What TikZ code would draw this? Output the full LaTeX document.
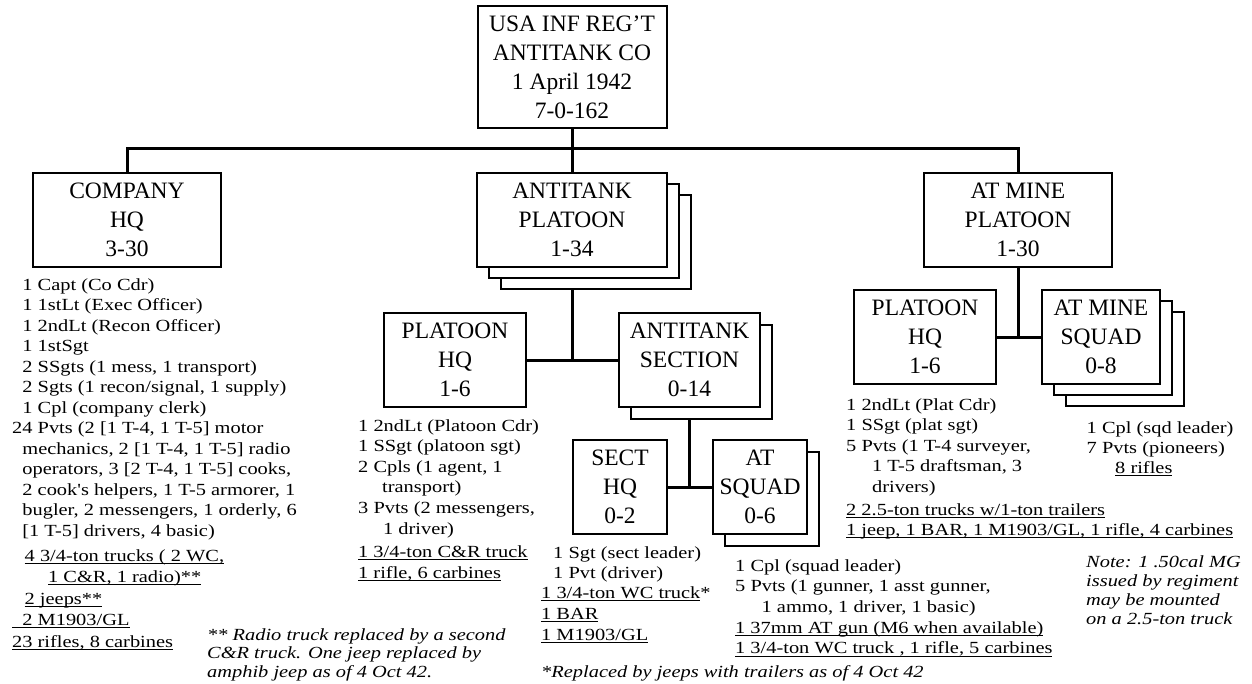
\documentclass[tikz,border=0pt]{standalone}
\usepackage{fontspec}
\setmainfont{Liberation Serif}
\newfontfamily\listfont{Liberation Serif}[FakeStretch=1.2]
\newcommand{\ulin}[1]{\setbox0=\hbox{#1}\rlap{\rule[-2.8pt]{\wd0}{1pt}}\box0}
\usetikzlibrary{shadows, backgrounds}

\begin{document}
\begin{tikzpicture}[
        x=1pt, y=-1pt,
        box/.style = {draw, line width=2pt, fill=white, align=center, inner sep=0pt, minimum height=94pt, font={\fontsize{23.5}{29}\selectfont}},
        oneshadow/.style = {general shadow={shadow xshift=12pt, shadow yshift=-12pt, draw, fill=white, line width=2pt}},
        twoshadows/.style = {general shadow={shadow xshift=24pt, shadow yshift=-22pt, draw, fill=white, line width=2pt},
                             general shadow={shadow xshift=12pt, shadow yshift=-11pt, draw, fill=white, line width=2pt}},
        list/.style = {anchor=north west, align=left, inner sep=0pt, font={\listfont\fontsize{17}{20.5}\selectfont}},
        note/.style = {anchor=north west, align=left, inner sep=0pt, font={\listfont\itshape\fontsize{17}{18.5}\selectfont}},
        link/.style = {line width=3pt},
    ]
        \useasboundingbox (0,0) rectangle (1252,683);
        \node[box, minimum width=189pt, minimum height=122pt] (regt) at (572,67) {USA INF REG'T\\ANTITANK CO\\1 April 1942\\7-0-162};
        \node[box, minimum width=188pt] (cohq) at (127,220) {COMPANY\\HQ\\3-30};
        \node[box, minimum width=190pt, twoshadows] (atplt) at (572,220) {ANTITANK\\PLATOON\\1-34};
        \node[box, minimum width=188pt] (mineplt) at (1018,220) {AT MINE\\PLATOON\\1-30};
        \node[box, minimum width=142pt] (plthq) at (455,360) {PLATOON\\HQ\\1-6};
        \node[box, minimum width=141pt, oneshadow] (atsec) at (689.5,360) {ANTITANK\\SECTION\\0-14};
        \node[box, minimum width=94pt] (secthq) at (620,487) {SECT\\HQ\\0-2};
        \node[box, minimum width=94pt, oneshadow] (atsqd) at (760,487) {AT\\SQUAD\\0-6};
        \node[box, minimum width=142pt] (mplthq) at (925,337) {PLATOON\\HQ\\1-6};
        \node[box, minimum width=118pt, twoshadows] (minesqd) at (1101,337) {AT MINE\\SQUAD\\0-8};

        \begin{scope}[on background layer]
            \coordinate (bus) at (572,148);
            \draw[link] (regt) -- (atplt);
            \draw[link] (cohq) |- (bus) -| (mineplt);
            \draw[link] (atplt) -- (atplt |- plthq);
            \draw[link] (plthq) -- (atsec);
            \draw[link] (atsec) -- (atsec |- secthq);
            \draw[link] (secthq) -- (atsqd);
            \draw[link] (mineplt) -- (mineplt |- mplthq);
            \draw[link] (mplthq) -- (minesqd);
        \end{scope}

        \node[list] (cohqlist) at (12,278) {\phantom{2}1 Capt (Co Cdr)\\\phantom{2}1 1stLt (Exec Officer)\\\phantom{2}1 2ndLt (Recon Officer)\\\phantom{2}1 1stSgt\\\phantom{2}2 SSgts (1 mess, 1 transport)\\\phantom{2}2 Sgts (1 recon/signal, 1 supply)\\\phantom{2}1 Cpl (company clerk)\\24 Pvts (2 [1 T-4, 1 T-5] motor\\\phantom{2}mechanics, 2 [1 T-4, 1 T-5] radio\\\phantom{2}operators, 3 [2 T-4, 1 T-5] cooks,\\\phantom{2}2 cook's helpers, 1 T-5 armorer, 1\\\phantom{2}bugler, 2 messengers, 1 orderly, 6\\\phantom{2}[1 T-5] drivers, 4 basic)};
        \node[list, font={\listfont\fontsize{17}{21.5}\selectfont}] (cohqgear) at (12,549) {\hspace*{12.5pt}\ulin{4 3/4-ton trucks ( 2 WC,}\\\hspace*{36pt}\ulin{1 C\&R, 1 radio)**}\\\hspace*{12.5pt}\ulin{2 jeeps**}\\\ulin{\phantom{2}2 M1903/GL}\\\ulin{23 rifles, 8 carbines}};
        \node[note] (cohqnote) at (207,628) {** Radio truck replaced by a second\\C\&R truck. One jeep replaced by\\amphib jeep as of 4 Oct 42.};

        \node[list, font={\listfont\fontsize{17}{20.6}\selectfont}] (plthqlist) at (358,419) {1 2ndLt (Platoon Cdr)\\1 SSgt (platoon sgt)\\2 Cpls (1 agent, 1\\\hspace*{24pt}transport)\\3 Pvts (2 messengers,\\\hspace*{25pt}1 driver)\\[3pt]\ulin{1 3/4-ton C\&R truck}\\\ulin{1 rifle, 6 carbines}};

        \node[list] (secthqlist) at (553,546) {1 Sgt (sect leader)\\1 Pvt (driver)};
        \node[list, font={\listfont\fontsize{17}{21.3}\selectfont}] (secthqgear) at (541,586) {\ulin{1 3/4-ton WC truck}*\\\ulin{1 BAR}\\\ulin{1 M1903/GL}};
        \node[note] (secthqnote) at (541,665) {*Replaced by jeeps with trailers as of 4 Oct 42};

        \node[list, font={\listfont\fontsize{17}{20.7}\selectfont}] (atsqdlist) at (735,559) {1 Cpl (squad leader)\\5 Pvts (1 gunner, 1 asst gunner,\\\hspace*{26.5pt}1 ammo, 1 driver, 1 basic)\\\ulin{1 37mm AT gun (M6 when available)}\\\ulin{1 3/4-ton WC truck , 1 rifle, 5 carbines}};

        \node[list] (mplthqlist) at (846,398) {1 2ndLt (Plat Cdr)\\1 SSgt (plat sgt)\\5 Pvts (1 T-4 surveyer,\\\hspace*{26pt}1 T-5 draftsman, 3\\\hspace*{26pt}drivers)\\[2.5pt]\ulin{2 2.5-ton trucks w/1-ton trailers}\\\ulin{1 jeep, 1 BAR, 1 M1903/GL, 1 rifle, 4 carbines}};

        \node[list, font={\listfont\fontsize{17}{20}\selectfont}] (minesqdlist) at (1086.5,421) {1 Cpl (sqd leader)\\7 Pvts (pioneers)\\\hspace*{28.5pt}\ulin{8 rifles}};
        \node[note, font={\listfont\itshape\fontsize{17}{19}\selectfont}] (minenote) at (1086,555) {Note: 1 .50cal MG\\issued by regiment\\may be mounted\\on a 2.5-ton truck};
    \end{tikzpicture}
\end{document}
